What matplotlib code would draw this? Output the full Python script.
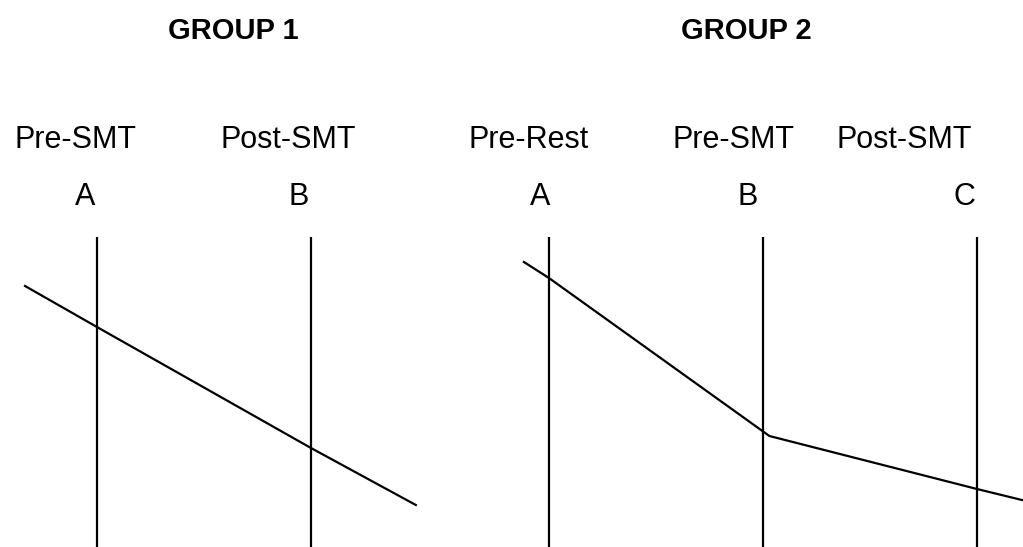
import matplotlib.pyplot as plt

plt.rcParams['font.family'] = ['Liberation Sans', 'DejaVu Sans']

# Group 1: two time points
g1_phases = ['Pre-SMT', 'Post-SMT']
g1_letters = ['A', 'B']
g1_line_x = [-0.336, 0, 1, 1.49]
g1_line_y = [2.61, 2.20, 0.99, 0.42]

# Group 2: three time points
g2_phases = ['Pre-Rest', 'Pre-SMT', 'Post-SMT']
g2_letters = ['A', 'B', 'C']
g2_line_x = [-0.117, 0, 1.03, 2, 2.21]
g2_line_y = [2.85, 2.69, 1.11, 0.58, 0.47]

titles = ['GROUP 1', 'GROUP 2']

# layout (data units, 1 unit between time points)
g2_offset = 2.112
line_top = 3.10
phase_dx = [[-0.100, 0.893], [-0.093, 0.864, 1.659]]
letter_dx = [[-0.056, 0.944], [-0.042, 0.93, 1.94]]
title_x = [0.636, 0.921]

fig = plt.figure(figsize=(10.23, 5.47), dpi=100)
ax = fig.add_axes([0, 0, 1, 1])
ax.set_xlim(-0.453, 4.327)
ax.set_ylim(0, 5.47)
ax.axis('off')

groups = [
    (0, g1_phases, g1_letters, g1_line_x, g1_line_y),
    (g2_offset, g2_phases, g2_letters, g2_line_x, g2_line_y),
]

for gi, (off, phases, letters, lx, ly) in enumerate(groups):
    for i in range(len(letters)):
        ax.plot([off + i, off + i], [0, line_top], color='black', lw=1.6,
                solid_capstyle='butt')
        ax.text(off + phase_dx[gi][i], 3.99, phases[i], ha='center',
                va='baseline', fontsize=22)
        ax.text(off + letter_dx[gi][i], 3.42, letters[i], ha='center',
                va='baseline', fontsize=22)
    ax.plot([off + x for x in lx], ly, color='black', lw=1.6)
    ax.text(off + title_x[gi], 5.08, titles[gi], ha='center', va='baseline',
            fontsize=21, fontweight='bold')

fig.savefig('out.png', dpi=100)
